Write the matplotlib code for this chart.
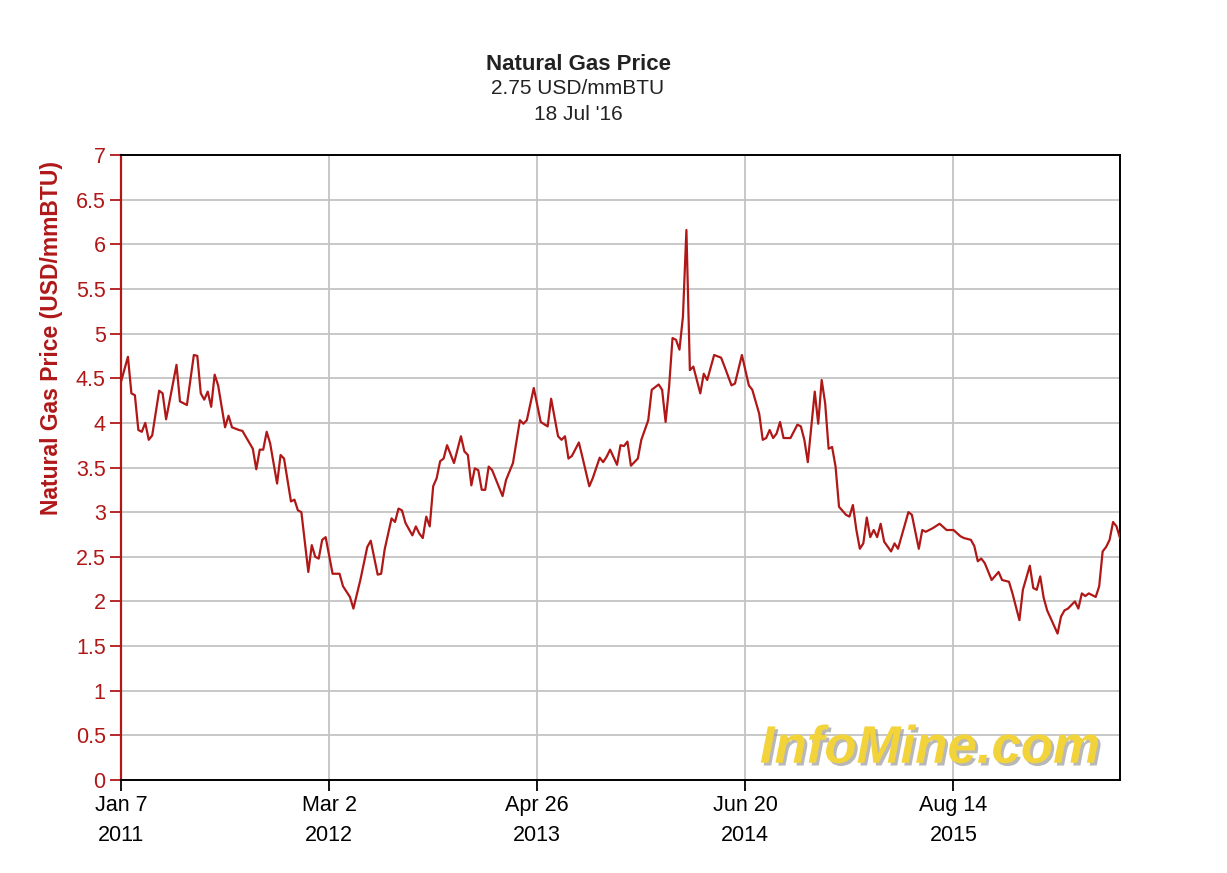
import datetime as dt
import matplotlib
matplotlib.use("Agg")
import matplotlib.pyplot as plt
import matplotlib.patheffects as pe
import numpy as np

# weeks since Fri Jan 7 2011 and the price at that week (USD/mmBTU)
week = [0, 2, 3, 4, 5, 6, 7, 8, 9, 11, 12, 13, 16, 17, 19, 21, 22, 23, 24, 25,
        26, 27, 28, 30, 31, 32, 34, 35, 38, 39, 40, 41, 42, 43, 45, 46, 47, 49, 50, 51,
        52, 54, 55, 56, 57, 58, 59, 61, 63, 64, 66, 67, 69, 71, 72, 74, 75, 76, 78, 79,
        80, 81, 82, 84, 85, 86, 87, 88, 89, 90, 91, 92, 93, 94, 96, 98, 99, 100, 101, 102,
        103, 104, 105, 106, 107, 110, 111, 113, 115, 116, 117, 119, 121, 123, 124, 126, 127, 128, 129, 130,
        132, 133, 135, 136, 138, 139, 140, 141, 143, 144, 145, 146, 147, 149, 150, 152, 153, 155, 156, 157,
        158, 159, 160, 161, 162, 163, 164, 165, 167, 168, 169, 171, 173, 174, 176, 177, 179, 181, 182, 184,
        185, 186, 187, 188, 189, 190, 191, 193, 195, 196, 197, 198, 200, 201, 202, 203, 204, 205, 206, 207,
        209, 210, 211, 212, 213, 214, 215, 216, 217, 218, 219, 220, 222, 223, 224, 227, 228, 230, 231, 232,
        234, 236, 238, 240, 242, 243, 245, 246, 247, 248, 249, 251, 253, 254, 256, 257, 259, 260, 262, 263,
        264, 265, 266, 267, 270, 271, 272, 273, 275, 276, 277, 278, 279, 281, 282, 283, 284, 285, 286, 287,
        288]
price = [4.46, 4.74, 4.33, 4.31, 3.92, 3.90, 4.00, 3.81, 3.86, 4.36, 4.33, 4.04, 4.65, 4.24, 4.20, 4.76, 4.75, 4.33, 4.26, 4.35,
         4.18, 4.54, 4.42, 3.95, 4.08, 3.95, 3.92, 3.91, 3.71, 3.48, 3.70, 3.70, 3.90, 3.77, 3.32, 3.64, 3.60, 3.12, 3.14, 3.02,
         3.00, 2.33, 2.63, 2.50, 2.48, 2.69, 2.72, 2.31, 2.31, 2.17, 2.05, 1.92, 2.24, 2.61, 2.68, 2.30, 2.31, 2.58, 2.93, 2.89,
         3.04, 3.02, 2.88, 2.74, 2.84, 2.76, 2.71, 2.95, 2.84, 3.29, 3.38, 3.57, 3.60, 3.75, 3.55, 3.85, 3.68, 3.64, 3.30, 3.49,
         3.47, 3.25, 3.25, 3.51, 3.47, 3.18, 3.36, 3.55, 4.03, 3.99, 4.03, 4.39, 4.01, 3.96, 4.27, 3.85, 3.81, 3.85, 3.60, 3.63,
         3.78, 3.62, 3.29, 3.38, 3.61, 3.56, 3.62, 3.70, 3.53, 3.75, 3.74, 3.79, 3.52, 3.60, 3.81, 4.03, 4.37, 4.43, 4.37, 4.01,
         4.40, 4.95, 4.93, 4.82, 5.19, 6.16, 4.59, 4.63, 4.33, 4.55, 4.48, 4.76, 4.73, 4.63, 4.42, 4.44, 4.76, 4.42, 4.37, 4.10,
         3.81, 3.83, 3.92, 3.83, 3.88, 4.01, 3.83, 3.83, 3.98, 3.96, 3.81, 3.56, 4.35, 3.99, 4.48, 4.22, 3.71, 3.73, 3.51, 3.06,
         2.97, 2.95, 3.08, 2.80, 2.59, 2.65, 2.94, 2.72, 2.80, 2.72, 2.87, 2.67, 2.56, 2.65, 2.59, 3.00, 2.97, 2.59, 2.80, 2.78,
         2.82, 2.87, 2.80, 2.80, 2.73, 2.71, 2.69, 2.62, 2.45, 2.48, 2.43, 2.24, 2.33, 2.24, 2.22, 2.09, 1.79, 2.13, 2.40, 2.15,
         2.13, 2.28, 2.04, 1.90, 1.64, 1.83, 1.90, 1.92, 2.00, 1.92, 2.09, 2.06, 2.09, 2.05, 2.17, 2.56, 2.61, 2.69, 2.89, 2.84,
         2.71]

tick_weeks = [0, 60, 120, 180, 240]
tick_labels = ["Jan 7\n2011", "Mar 2\n2012", "Apr 26\n2013", "Jun 20\n2014", "Aug 14\n2015"]

start = dt.date(2011, 1, 7)
dates = [start + dt.timedelta(weeks=w) for w in week]

plt.rcParams['font.family'] = ['Liberation Sans', 'DejaVu Sans']
red = "#b01818"

fig = plt.figure(figsize=(12.27, 8.73), dpi=100)
ax = fig.add_axes([121 / 1227, 1 - 780 / 873, (1120 - 121) / 1227, (780 - 155) / 873])

ax.plot(dates, price, color=red, lw=1.6, zorder=3)

ax.set_xlim(start, start + dt.timedelta(weeks=288))
ax.set_ylim(0, 7)
ax.set_yticks(np.arange(0, 7.01, 0.5))
ax.set_yticklabels([f"{v:g}" for v in np.arange(0, 7.01, 0.5)])
ax.set_xticks([start + dt.timedelta(weeks=w) for w in tick_weeks])
ax.set_xticklabels(tick_labels, linespacing=1.55)

ax.grid(True, color="#c4c4c4", lw=1.3)
ax.set_axisbelow(True)
ax.tick_params(axis="y", colors=red, labelsize=15.5, length=8, width=1.3, pad=3)
ax.tick_params(axis="x", colors="black", labelsize=15.5, length=8, width=1.3, pad=3)
for s in ["top", "right", "bottom"]:
    ax.spines[s].set_color("black")
    ax.spines[s].set_linewidth(1.4)
ax.spines["left"].set_color(red)
ax.spines["left"].set_linewidth(1.6)

fig.text(52 / 1227, 1 - 338 / 873, "Natural Gas Price (USD/mmBTU)", rotation=90,
         color=red, fontsize=16.5, fontweight="bold", ha="center", va="center")

fig.text(578 / 1227, 1 - 65 / 873, "Natural Gas Price", fontsize=16, fontweight="bold",
         ha="center", va="center", color="#222222")
fig.text(578 / 1227, 1 - 89 / 873, "2.75 USD/mmBTU", fontsize=15, ha="center", va="center", color="#222222")
fig.text(578 / 1227, 1 - 114 / 873, "18 Jul '16", fontsize=15, ha="center", va="center", color="#222222")

# watermark
ax.text(0.98, 0.05, "InfoMine.com", transform=ax.transAxes, ha="right", va="center",
        fontsize=38, fontweight="bold", style="italic", color="#f2d33a", zorder=2,
        path_effects=[pe.withSimplePatchShadow(offset=(2, -2), shadow_rgbFace="#9a9a9a", alpha=0.7)])

fig.savefig("out.png", dpi=100, facecolor="white")
